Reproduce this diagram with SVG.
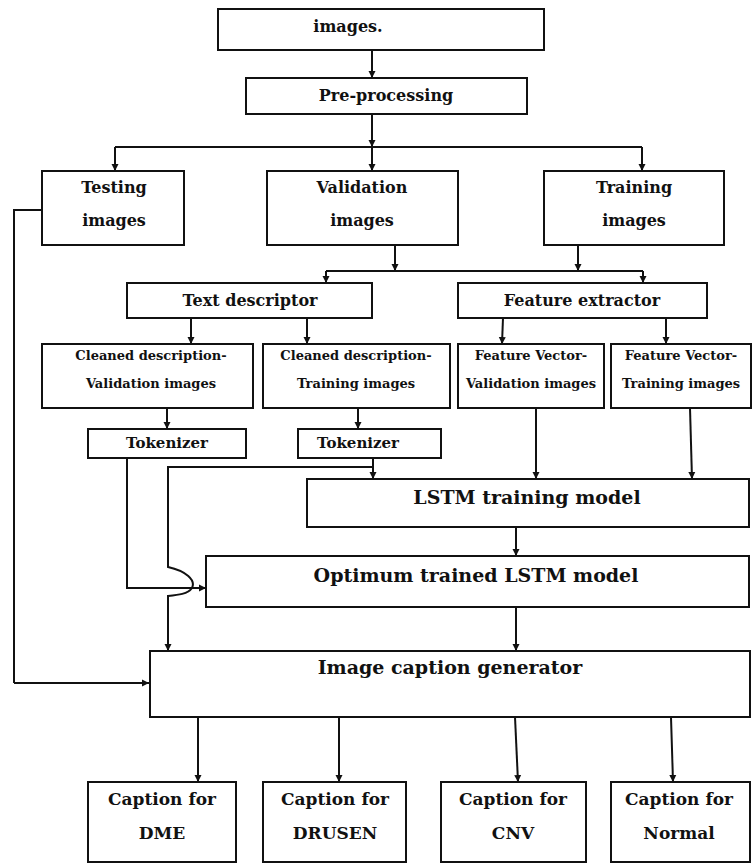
<svg xmlns="http://www.w3.org/2000/svg" width="753" height="864" viewBox="0 0 753 864">
<style>
.b{fill:#fff;stroke:#111;stroke-width:2}
.t{font-family:"DejaVu Serif","Liberation Serif",serif;font-weight:bold;fill:#111;text-anchor:middle}
.c{fill:none;stroke:#111;stroke-width:2}
.a{marker-end:url(#ah)}
</style>
<defs>
<marker id="ah" markerUnits="userSpaceOnUse" markerWidth="8" markerHeight="8" refX="7" refY="4" orient="auto">
<path d="M0,0.5 L7,4 L0,7.5 z" fill="#111"/>
</marker>
</defs>
<rect width="753" height="864" fill="#fff"/>
<g id="connectors">
<path class="c a" d="M372,50 V78"/>
<path class="c a" d="M372,114 V147"/>
<path class="c" d="M115,147 H642"/>
<path class="c a" d="M115,147 V171"/>
<path class="c a" d="M372,147 V171"/>
<path class="c a" d="M642,147 V171"/>
<path class="c" d="M42,210 H14 V683"/>
<path class="c a" d="M14,683 H149"/>
<path class="c a" d="M395,245 V271"/>
<path class="c a" d="M578,245 V271"/>
<path class="c" d="M326,271 H643"/>
<path class="c a" d="M326,271 V283"/>
<path class="c a" d="M643,271 V283"/>
<path class="c a" d="M191,318 V344"/>
<path class="c a" d="M307,318 V344"/>
<path class="c a" d="M503,318 L502,344"/>
<path class="c a" d="M666,318 V344"/>
<path class="c a" d="M167,408 V429"/>
<path class="c a" d="M358,408 V429"/>
<path class="c a" d="M536,408 V479"/>
<path class="c a" d="M690,408 L692,479"/>
<path class="c" d="M373,458 V467 H168 V567 C186,571 196,580 192,588 C188,594 178,595 168,596 V651"/>
<path class="c a" d="M168,596 V651"/>
<path class="c a" d="M373,467 V479"/>
<path class="c" d="M127,458 V588 H192"/>
<path class="c a" d="M192,588 H206"/>
<path class="c a" d="M516,527 V556"/>
<path class="c a" d="M516,607 V651"/>
<path class="c a" d="M198,717 V782"/>
<path class="c a" d="M339,717 V782"/>
<path class="c a" d="M515,717 L518,782"/>
<path class="c a" d="M671,717 L673,782"/>
</g>
<g id="n-images"><rect class="b" x="218" y="9" width="326" height="41"/><text class="t" x="348" y="32" font-size="16">images.</text></g>
<g id="n-pre"><rect class="b" x="246" y="78" width="281" height="36"/><text class="t" x="386" y="101" font-size="16">Pre-processing</text></g>
<g id="n-testing"><rect class="b" x="42" y="171" width="142" height="74"/><text class="t" x="114" y="193" font-size="16">Testing</text><text class="t" x="114" y="226" font-size="16">images</text></g>
<g id="n-validation"><rect class="b" x="267" y="171" width="191" height="74"/><text class="t" x="362" y="193" font-size="16">Validation</text><text class="t" x="362" y="226" font-size="16">images</text></g>
<g id="n-training"><rect class="b" x="544" y="171" width="180" height="74"/><text class="t" x="634" y="193" font-size="16">Training</text><text class="t" x="634" y="226" font-size="16">images</text></g>
<g id="n-textdesc"><rect class="b" x="127" y="283" width="245" height="35"/><text class="t" x="250" y="306" font-size="16">Text descriptor</text></g>
<g id="n-featext"><rect class="b" x="458" y="283" width="249" height="35"/><text class="t" x="582" y="306" font-size="16">Feature extractor</text></g>
<g id="n-cdval"><rect class="b" x="42" y="344" width="211" height="64"/><text class="t" x="151" y="360" font-size="13">Cleaned description-</text><text class="t" x="151" y="388" font-size="13">Validation images</text></g>
<g id="n-cdtrain"><rect class="b" x="263" y="344" width="187" height="64"/><text class="t" x="356" y="360" font-size="13">Cleaned description-</text><text class="t" x="356" y="388" font-size="13">Training images</text></g>
<g id="n-fvval"><rect class="b" x="458" y="344" width="146" height="64"/><text class="t" x="531" y="360" font-size="13">Feature Vector-</text><text class="t" x="531" y="388" font-size="13">Validation images</text></g>
<g id="n-fvtrain"><rect class="b" x="611" y="344" width="140" height="64"/><text class="t" x="681" y="360" font-size="13">Feature Vector-</text><text class="t" x="681" y="388" font-size="13">Training images</text></g>
<g id="n-tok1"><rect class="b" x="88" y="429" width="158" height="29"/><text class="t" x="167" y="448" font-size="15">Tokenizer</text></g>
<g id="n-tok2"><rect class="b" x="298" y="429" width="143" height="29"/><text class="t" x="358" y="448" font-size="15">Tokenizer</text></g>
<g id="n-lstm"><rect class="b" x="307" y="479" width="442" height="48"/><text class="t" x="527" y="504" font-size="19">LSTM training model</text></g>
<g id="n-opt"><rect class="b" x="206" y="556" width="543" height="51"/><text class="t" x="476" y="582" font-size="19">Optimum trained LSTM model</text></g>
<g id="n-icg"><rect class="b" x="150" y="651" width="600" height="66"/><text class="t" x="450" y="674" font-size="19">Image caption generator</text></g>
<g id="n-dme"><rect class="b" x="88" y="782" width="148" height="80"/><text class="t" x="162" y="805" font-size="17">Caption for</text><text class="t" x="162" y="839" font-size="17">DME</text></g>
<g id="n-drusen"><rect class="b" x="263" y="782" width="143" height="80"/><text class="t" x="335" y="805" font-size="17">Caption for</text><text class="t" x="335" y="839" font-size="17">DRUSEN</text></g>
<g id="n-cnv"><rect class="b" x="441" y="782" width="145" height="80"/><text class="t" x="513" y="805" font-size="17">Caption for</text><text class="t" x="513" y="839" font-size="17">CNV</text></g>
<g id="n-normal"><rect class="b" x="611" y="782" width="139" height="80"/><text class="t" x="679" y="805" font-size="17">Caption for</text><text class="t" x="679" y="839" font-size="17">Normal</text></g>
</svg>
